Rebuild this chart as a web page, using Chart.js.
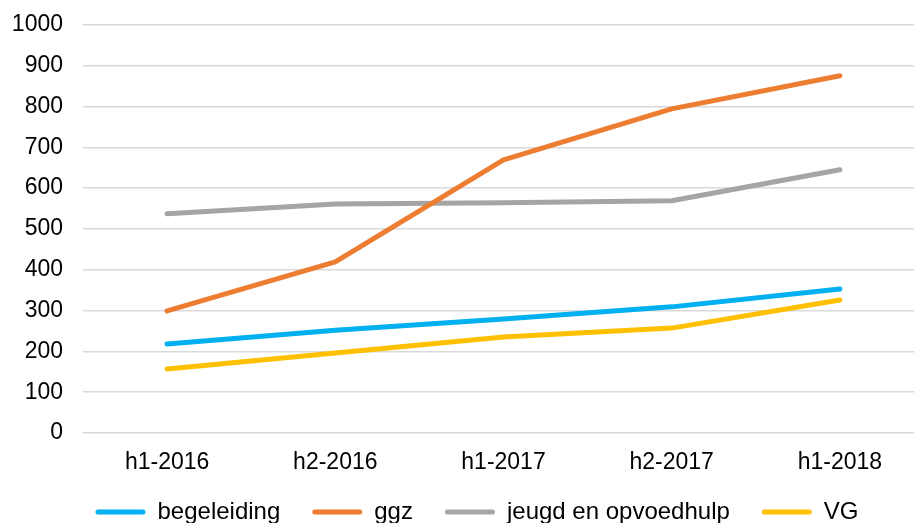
<!DOCTYPE html>
<html>
<head>
<meta charset="utf-8">
<script src="https://cdn.jsdelivr.net/npm/chart.js@4.4.0/dist/chart.umd.min.js"></script>
<style>
  html, body { margin: 0; padding: 0; background: #fff; overflow: hidden; }
  #wrap { width: 914px; height: 523px; overflow: hidden; position: relative; }
  #box { width: 924px; height: 558px; position: absolute; left: 0; top: -9px; }
</style>
</head>
<body>
<div id="wrap"><div id="box"><canvas id="chart"></canvas></div></div>
<script>
// categories (half-years)
const periods = ['h1-2016', 'h2-2016', 'h1-2017', 'h2-2017', 'h1-2018'];

// series values
const begeleiding = [218, 252, 279, 309, 353];
const ggz = [299, 419, 669, 794, 875];
const jeugd = [537, 561, 564, 569, 645];
const vg = [157, 196, 235, 257, 326];

const seriesNames = ['begeleiding', 'ggz', 'jeugd en opvoedhulp', 'VG'];
const seriesColors = ['#00B0F0', '#ED7D31', '#A5A5A5', '#FFC000'];

// y axis ticks
const yMin = 0;
const yMax = 1000;
const yStep = 100;

const tickFont = { family: 'Liberation Sans, Arial, sans-serif', size: 23 };
const legendFont = { family: 'Liberation Sans, Arial, sans-serif', size: 24 };

function makeSet(name, data, color) {
    return {
        label: name,
        data: data,
        borderColor: color,
        backgroundColor: color,
        borderWidth: 5,
        borderCapStyle: 'round',
        borderJoinStyle: 'round',
        pointRadius: 0,
        tension: 0,
        fill: false
    };
}

// move the legend box a little (right and up) after layout
const legendNudge = {
    id: 'legendNudge',
    afterLayout(chart) {
        const lg = chart.legend;
        if (!lg) return;
        lg.left += 15; lg.right += 15;
        lg.top -= 15; lg.bottom -= 15;
    }
};

const ctx = document.getElementById('chart');
new Chart(ctx, {
    type: 'line',
    data: {
        labels: periods,
        datasets: [
            makeSet(seriesNames[0], begeleiding, seriesColors[0]),
            makeSet(seriesNames[1], ggz, seriesColors[1]),
            makeSet(seriesNames[2], jeugd, seriesColors[2]),
            makeSet(seriesNames[3], vg, seriesColors[3])
        ]
    },
    plugins: [legendNudge],
    options: {
        responsive: true,
        maintainAspectRatio: false,
        animation: false,
        layout: { padding: { top: 8, left: 0, right: 0, bottom: 0 } },
        plugins: {
            tooltip: { enabled: false },
            legend: {
                position: 'bottom',
                labels: {
                    color: '#000',
                    font: legendFont,
                    boxWidth: 50,
                    boxHeight: 5,
                    padding: 32,
                    generateLabels: function (chart) {
                        return chart.data.datasets.map((ds, i) => ({
                            text: ds.label,
                            fillStyle: ds.borderColor,
                            strokeStyle: ds.borderColor,
                            lineWidth: 0,
                            borderRadius: 2.5,
                            datasetIndex: i
                        }));
                    }
                }
            }
        },
        scales: {
            x: {
                offset: true,
                grid: { display: false, drawTicks: false },
                border: { display: false },
                ticks: { color: '#000', font: tickFont, padding: 16, maxRotation: 0 },
                afterFit: function (scale) { scale.height = 50; }
            },
            y: {
                min: yMin,
                max: yMax,
                grid: { color: '#D9D9D9', lineWidth: 1.5, drawTicks: false },
                border: { display: false },
                ticks: {
                    stepSize: yStep,
                    color: '#000',
                    font: tickFont,
                    padding: 20,
                    callback: function (v) { return String(v); }
                },
                afterFit: function (scale) { scale.width = 83; }
            }
        }
    }
});
</script>
</body>
</html>
